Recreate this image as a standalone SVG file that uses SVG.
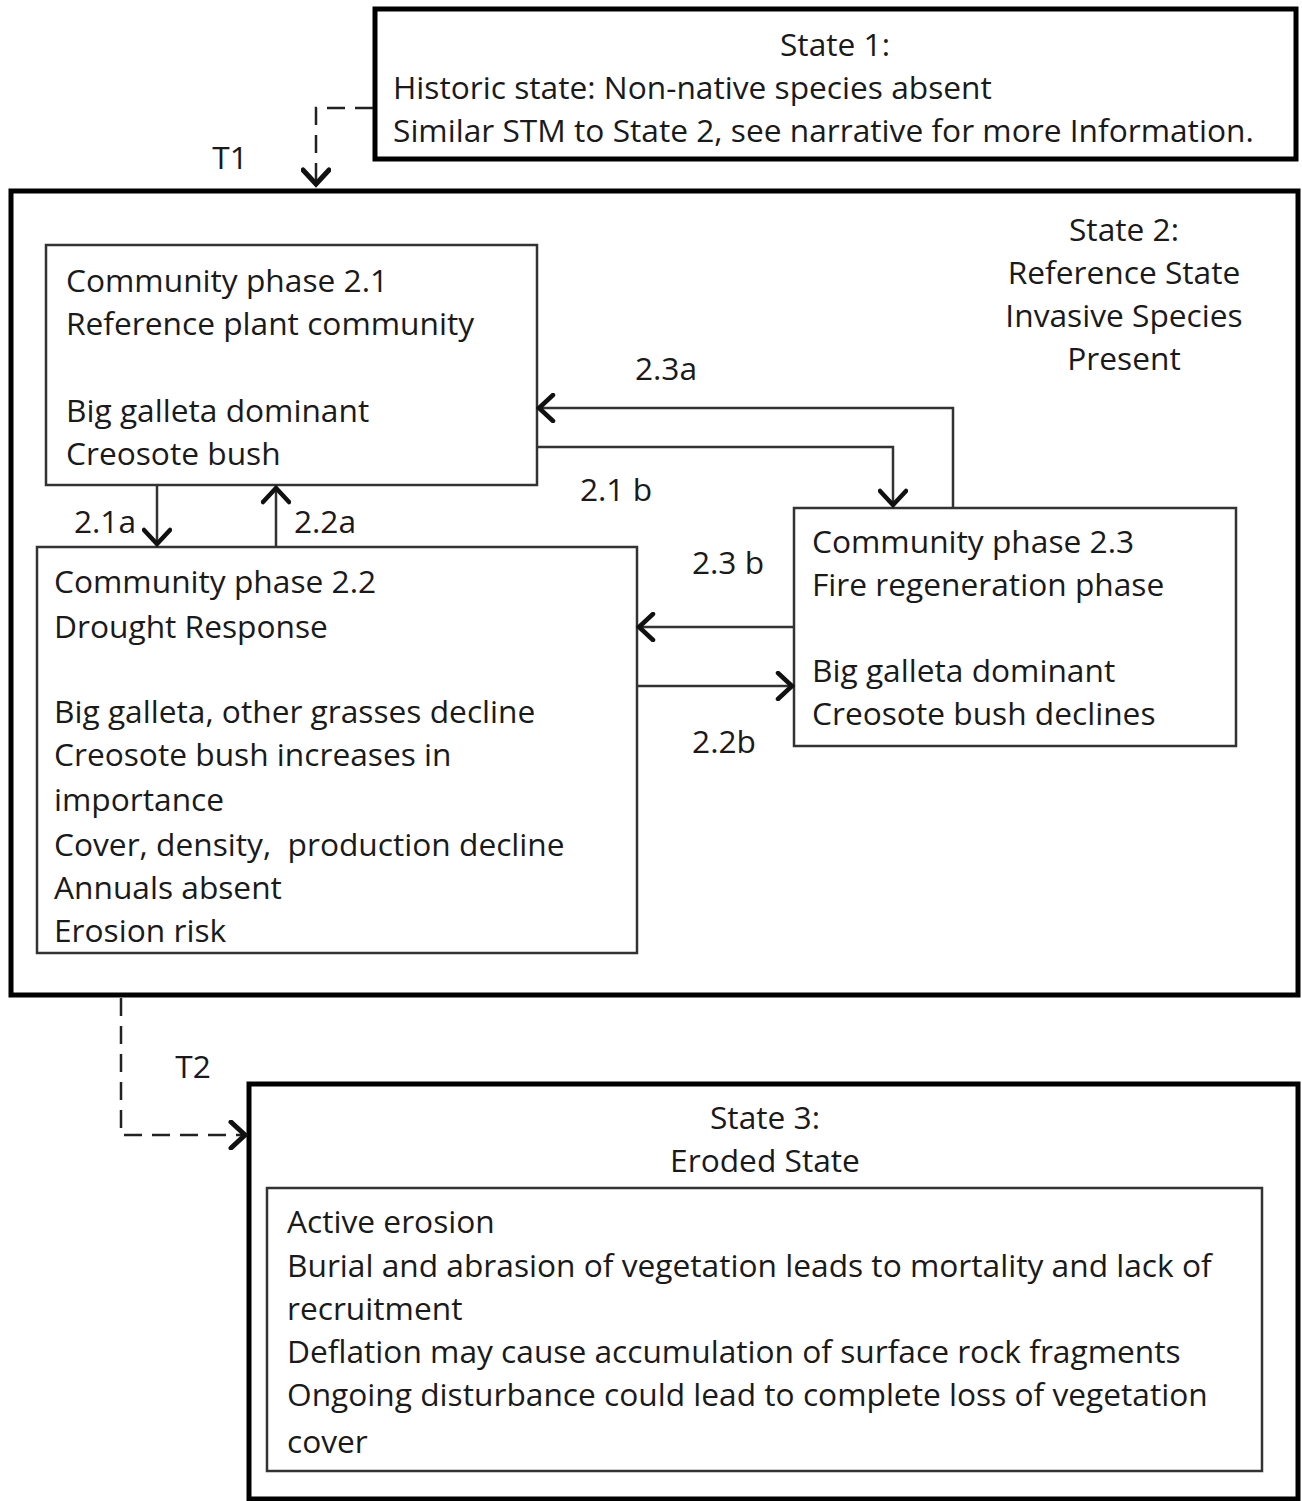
<svg xmlns="http://www.w3.org/2000/svg" width="1302" height="1501" viewBox="0 0 1302 1501">
<style>
text{font-family:"Open Sans","Liberation Sans",sans-serif;font-size:31.7px;fill:#1a1a1a;white-space:pre}
.c{text-anchor:middle}
.state{fill:#fff;stroke:#000;stroke-width:5}
.phase{fill:#fff;stroke:#333;stroke-width:2.5}
.conn{fill:none;stroke:#333;stroke-width:2.5}
.dash{fill:none;stroke:#222;stroke-width:2.5;stroke-dasharray:18 10}
</style>
<defs>
<marker id="ah" viewBox="0 0 30 30" refX="24" refY="15" markerWidth="30" markerHeight="30" markerUnits="userSpaceOnUse" orient="auto">
<path d="M10,2 L24,15 L10,28" fill="none" stroke="#111" stroke-width="4.5" stroke-linecap="round" stroke-linejoin="miter"/>
</marker>
<marker id="ahb" viewBox="0 0 30 30" refX="24" refY="15" markerWidth="30" markerHeight="30" markerUnits="userSpaceOnUse" orient="auto">
<path d="M10,2 L24,15 L10,28" fill="none" stroke="#111" stroke-width="5" stroke-linecap="round"/>
</marker>
</defs>

<g id="state1">
<rect class="state" x="375" y="9" width="921" height="150"/>
<text class="c" x="835" y="56">State 1:</text>
<text x="393" y="99">Historic state: Non-native species absent</text>
<text x="393" y="142">Similar STM to State 2, see narrative for more Information.</text>
</g>

<g id="state2">
<rect class="state" x="11" y="191" width="1287" height="804"/>
<text class="c" x="1124" y="241">State 2:</text>
<text class="c" x="1124" y="284">Reference State</text>
<text class="c" x="1124" y="327">Invasive Species</text>
<text class="c" x="1124" y="370">Present</text>
</g>

<g id="phase21">
<rect class="phase" x="46" y="245" width="491" height="240"/>
<text x="66" y="292">Community phase 2.1</text>
<text x="66" y="335">Reference plant community</text>
<text x="66" y="422">Big galleta dominant</text>
<text x="66" y="465">Creosote bush</text>
</g>

<g id="phase22">
<rect class="phase" x="37" y="547" width="600" height="406"/>
<text x="54" y="593">Community phase 2.2</text>
<text x="54" y="638">Drought Response</text>
<text x="54" y="723">Big galleta, other grasses decline</text>
<text x="54" y="766">Creosote bush increases in</text>
<text x="54" y="811">importance</text>
<text x="54" y="856">Cover, density,  production decline</text>
<text x="54" y="899">Annuals absent</text>
<text x="54" y="942">Erosion risk</text>
</g>

<g id="phase23">
<rect class="phase" x="794" y="508" width="442" height="238"/>
<text x="812" y="553">Community phase 2.3</text>
<text x="812" y="596">Fire regeneration phase</text>
<text x="812" y="682">Big galleta dominant</text>
<text x="812" y="725">Creosote bush declines</text>
</g>

<g id="state3">
<rect class="state" x="249" y="1084" width="1049" height="415"/>
<text class="c" x="765" y="1129">State 3:</text>
<text class="c" x="765" y="1172">Eroded State</text>
<rect class="phase" x="267" y="1188" width="995" height="283"/>
<text x="287" y="1233">Active erosion</text>
<text x="287" y="1277">Burial and abrasion of vegetation leads to mortality and lack of</text>
<text x="287" y="1320">recruitment</text>
<text x="287" y="1363">Deflation may cause accumulation of surface rock fragments</text>
<text x="287" y="1406">Ongoing disturbance could lead to complete loss of vegetation</text>
<text x="287" y="1453">cover</text>
</g>

<g id="connectors">
<path class="dash" d="M373,108 L316,108 L316,184" marker-end="url(#ahb)"/>
<text class="c" x="230" y="169">T1</text>
<path class="conn" d="M157,486 L157,544" marker-end="url(#ah)"/>
<text class="c" x="105" y="533">2.1a</text>
<path class="conn" d="M276,546 L276,488" marker-end="url(#ah)"/>
<text class="c" x="325" y="533">2.2a</text>
<path class="conn" d="M953,507 L953,408 L539,408" marker-end="url(#ah)"/>
<text class="c" x="666" y="380">2.3a</text>
<path class="conn" d="M538,447 L893,447 L893,505" marker-end="url(#ah)"/>
<text class="c" x="616" y="501">2.1 b</text>
<path class="conn" d="M793,627 L639,627" marker-end="url(#ah)"/>
<text class="c" x="728" y="574">2.3 b</text>
<path class="conn" d="M638,686 L792,686" marker-end="url(#ah)"/>
<text class="c" x="724" y="753">2.2b</text>
<path class="dash" d="M121,998 L121,1135 L245,1135" marker-end="url(#ahb)"/>
<text class="c" x="193" y="1078">T2</text>
</g>
</svg>
